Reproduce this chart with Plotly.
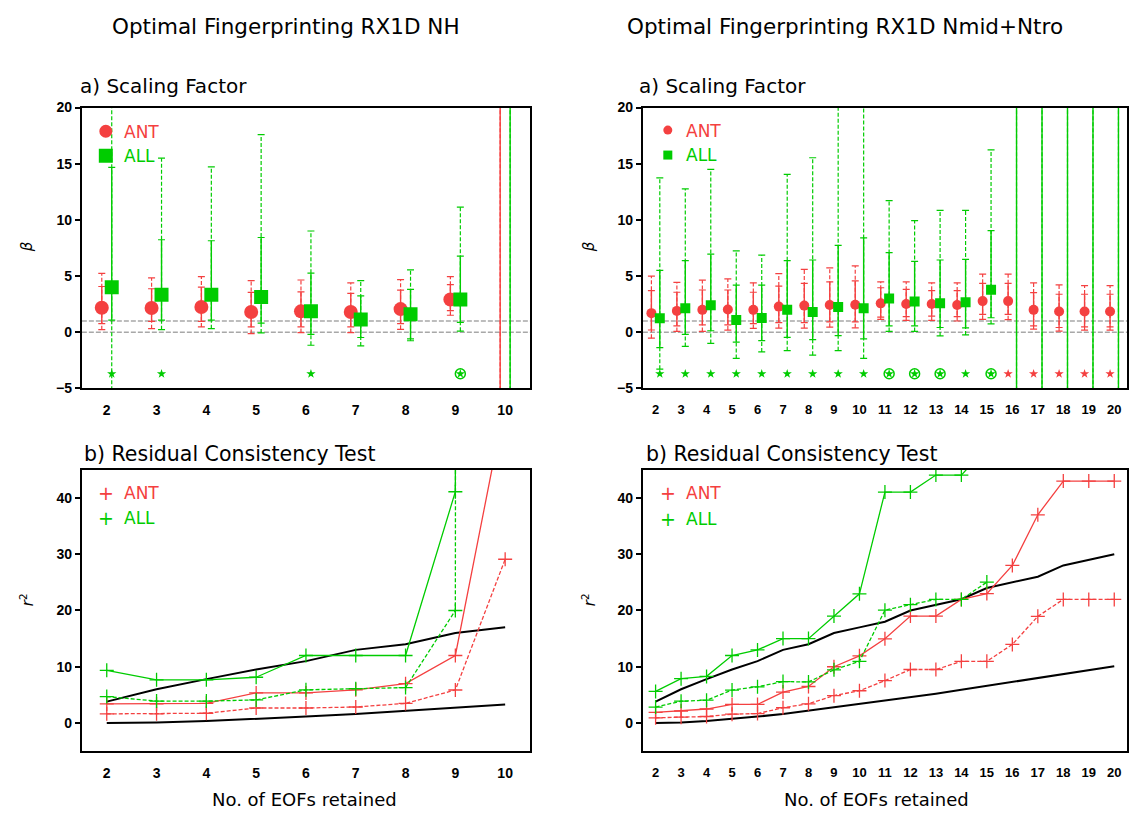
import plotly.graph_objects as go

W, H = 1129, 818
RED = '#f44040'
GREEN = '#00cc00'
GREY = '#a8a8a8'

# ---------------- DATA: NH (EOFs 2..10) ----------------
nh_n = [2, 3, 4, 5, 6, 7, 8, 9, 10]
BIG = 1000.0  # unbounded interval

nh_ant_beta   = [2.18, 2.15, 2.24, 1.80, 1.86, 1.80, 2.06, 2.91, None]
nh_ant_in_lo  = [0.76, 0.96, 0.96, 0.47, 0.47, 0.47, 0.76, 1.92, -BIG]
nh_ant_in_hi  = [4.07, 3.87, 4.01, 3.55, 3.60, 3.46, 3.75, 4.24, BIG]
nh_ant_out_lo = [0.23, 0.32, 0.47, -0.12, -0.03, -0.03, 0.26, 1.51, -BIG]
nh_ant_out_hi = [5.23, 4.83, 4.94, 4.59, 4.65, 4.39, 4.68, 4.94, BIG]

nh_all_beta   = [4.01, 3.34, 3.34, 3.14, 1.86, 1.13, 1.60, 2.91, None]
nh_all_in_lo  = [1.08, 1.08, 1.08, 0.81, -0.20, -0.47, -0.60, 0.87, -BIG]
nh_all_in_hi  = [14.68, 8.23, 8.14, 8.43, 5.26, 3.23, 3.81, 6.77, BIG]
nh_all_out_lo = [-BIG, 0.23, 0.32, -0.06, -1.16, -1.22, -0.76, 0.09, -BIG]
nh_all_out_hi = [BIG, 15.49, 14.71, 17.59, 9.01, 4.59, 5.55, 11.13, BIG]

# significance markers: '*' star, 'o' circled star, '' none
nh_sig_all = ['*', '*', '', '', '*', '', '', 'o', '']
nh_sig_ant = ['', '', '', '', '', '', '', '', '']

nh_ant_r2      = [3.4, 3.4, 3.5, 5.35, 5.35, 5.9, 7.0, 12.0, 57.0]
nh_ant_r2_dash = [1.63, 1.63, 1.74, 2.67, 2.67, 2.85, 3.49, 5.87, 29.1]
nh_all_r2      = [9.36, 7.67, 7.67, 8.14, 12.0, 12.0, 12.0, 41.1, BIG * 10]
nh_all_r2_dash = [4.7, 3.9, 3.9, 4.1, 5.9, 6.1, 6.3, 20.0, BIG * 10]
nh_chi_hi = [3.8, 6.0, 7.8, 9.5, 11.0, 13.0, 14.0, 16.0, 17.0]
nh_chi_lo = [0.0, 0.1, 0.35, 0.7, 1.15, 1.6, 2.2, 2.7, 3.3]

# ---------------- DATA: Nmid+Ntro (EOFs 2..20) ----------------
nm_n = list(range(2, 21))
nm_ant_beta   = [1.70, 1.90, 1.99, 2.02, 1.99, 2.28, 2.37, 2.42, 2.45, 2.57,
                 2.51, 2.51, 2.42, 2.77, 2.77, 1.99, 1.84, 1.84, 1.84]
nm_ant_in_lo  = [0.20, 0.57, 0.66, 0.66, 0.77, 0.86, 0.86, 0.92, 0.92, 1.35,
                 1.38, 1.44, 1.38, 1.58, 1.58, 0.57, 0.42, 0.48, 0.48]
nm_ant_in_hi  = [3.70, 3.56, 3.76, 3.76, 3.56, 4.11, 4.34, 4.48, 4.57, 3.96,
                 3.82, 3.70, 3.70, 4.34, 4.34, 3.53, 3.38, 3.38, 3.38]
nm_ant_out_lo = [-0.53, 0.07, 0.07, 0.19, 0.34, 0.37, 0.37, 0.45, 0.39, 1.15,
                 1.06, 1.06, 1.00, 1.15, 1.12, 0.28, 0.10, 0.19, 0.19]
nm_ant_out_hi = [5.00, 4.43, 4.63, 4.74, 4.40, 5.21, 5.59, 5.73, 5.90, 4.48,
                 4.48, 4.40, 4.40, 5.18, 5.18, 4.40, 4.22, 4.14, 4.14]

nm_all_beta   = [1.24, 2.13, 2.40, 1.09, 1.26, 1.99, 1.79, 2.25, 2.13, 3.00,
                 2.74, 2.57, 2.66, 3.79, None, None, None, None, None]
nm_all_in_lo  = [-1.37, -0.20, 0.13, -0.88, -0.74, -0.45, -0.65, -0.30, -0.59, 0.57,
                 0.57, 0.42, 0.39, 1.29, -BIG, -BIG, -BIG, -BIG, -BIG]
nm_all_in_hi  = [5.50, 6.37, 6.95, 4.19, 4.19, 6.37, 6.43, 7.73, 8.40, 7.09,
                 6.31, 6.43, 6.49, 9.04, BIG, BIG, BIG, BIG, BIG]
nm_all_out_lo = [-3.29, -1.26, -1.00, -2.33, -1.75, -1.64, -2.04, -1.64, -2.33, 0.07,
                 0.07, -0.33, -0.24, 0.74, -BIG, -BIG, -BIG, -BIG, -BIG]
nm_all_out_hi = [13.74, 12.75, 14.49, 7.24, 6.86, 14.05, 15.53, BIG, BIG, 11.71,
                 9.94, 10.84, 10.84, 16.23, BIG, BIG, BIG, BIG, BIG]

nm_sig_all = ['*', '*', '*', '*', '*', '*', '*', '*', '*', 'o',
              'o', 'o', '*', 'o', '', '', '', '', '']
nm_sig_ant = ['', '', '', '', '', '', '', '', '', '',
              '', '', '', '', '*', '*', '*', '*', '*']

nm_ant_r2      = [1.91, 2.14, 2.49, 3.3, 3.3, 5.5, 6.49, 10.0, 11.94, 14.96,
                  19.0, 19.0, 21.97, 23.0, 28.0, 37.0, 43.0, 43.0, 43.0]
nm_ant_r2_dash = [0.93, 1.04, 1.16, 1.57, 1.68, 2.72, 3.42, 4.87, 5.74, 7.54,
                  9.51, 9.51, 10.96, 10.96, 13.97, 18.96, 21.97, 21.97, 21.97]
nm_all_r2      = [5.62, 7.88, 8.29, 12.0, 12.99, 15.0, 15.0, 19.0, 22.96, 41.04,
                  41.04, 44.06, 44.06, 49.0]
nm_all_r2_dash = [2.84, 3.88, 4.06, 5.86, 6.43, 7.36, 7.30, 9.45, 10.96, 20.06,
                  21.04, 21.97, 21.97, 25.04]
nm_chi_hi = [3.8, 6.0, 7.8, 9.5, 11.0, 13.0, 14.0, 16.0, 17.0, 18.0,
             20.0, 21.0, 22.0, 24.0, 25.0, 26.0, 28.0, 29.0, 30.0]
nm_chi_lo = [0.0, 0.1, 0.35, 0.7, 1.15, 1.6, 2.2, 2.7, 3.3, 3.9,
             4.6, 5.2, 5.9, 6.6, 7.3, 8.0, 8.7, 9.4, 10.1]

beta_ticks = [-5, 0, 5, 10, 15, 20]
r2_ticks = [0, 10, 20, 30, 40]

# ---------------- helpers ----------------
DASH = '4px,2px'
traces = []


def whisk(xs, lo, hi, color, dash, width, ax):
    X, Y = [], []
    for x, l, h in zip(xs, lo, hi):
        if l is None or h is None:
            continue
        X += [x, x, None]
        Y += [l, h, None]
    traces.append(go.Scatter(
        x=X, y=Y, mode='lines+markers', xaxis='x' + ax, yaxis='y' + ax,
        line=dict(color=color, width=width, dash=dash),
        marker=dict(symbol='line-ew', size=5, color=color, line=dict(color=color, width=1.2)),
        showlegend=False, hoverinfo='skip'))


def points(xs, ys, color, symbol, size, ax):
    traces.append(go.Scatter(
        x=xs, y=ys, mode='markers', xaxis='x' + ax, yaxis='y' + ax,
        marker=dict(symbol=symbol, size=size, color=color, line=dict(width=0)),
        showlegend=False, hoverinfo='skip'))


def sig(xs, flags, color, ssize, csize, ax, ylev=-3.7):
    sx = [x for x, f in zip(xs, flags) if f]
    cx = [x for x, f in zip(xs, flags) if f == 'o']
    if sx:
        points(sx, [ylev] * len(sx), color, 'star', ssize, ax)
    if cx:
        traces.append(go.Scatter(
            x=cx, y=[ylev] * len(cx), mode='markers', xaxis='x' + ax, yaxis='y' + ax,
            marker=dict(symbol='circle-open', size=csize, color=color, line=dict(color=color, width=1.5)),
            showlegend=False, hoverinfo='skip'))


def rline(xs, ys, color, dash, ax, width=1.3, markers=True):
    traces.append(go.Scatter(
        x=xs[:len(ys)], y=ys, mode='lines+markers' if markers else 'lines',
        xaxis='x' + ax, yaxis='y' + ax,
        line=dict(color=color, width=width, dash=dash),
        marker=dict(symbol='cross-thin', size=10, color=color, line=dict(color=color, width=1.3)),
        showlegend=False, hoverinfo='skip'))


# ---------------- panel a) NH ----------------
off1 = 0.1
xa = [n - off1 for n in nh_n]
xb = [n + off1 for n in nh_n]
whisk(xa, nh_ant_out_lo, nh_ant_out_hi, RED, DASH, 1.2, '')
whisk(xa, nh_ant_in_lo, nh_ant_in_hi, RED, 'solid', 1.4, '')
whisk(xb, nh_all_out_lo, nh_all_out_hi, GREEN, DASH, 1.2, '')
whisk(xb, nh_all_in_lo, nh_all_in_hi, GREEN, 'solid', 1.4, '')
points(xa, nh_ant_beta, RED, 'circle', 14, '')
points(xb, nh_all_beta, GREEN, 'square', 14, '')
sig(xb, nh_sig_all, GREEN, 7, 10, '')
sig(xa, nh_sig_ant, RED, 7, 10, '')

# ---------------- panel a) Nmid+Ntro ----------------
off2 = 0.165
xa2 = [n - off2 for n in nm_n]
xb2 = [n + off2 for n in nm_n]
whisk(xa2, nm_ant_out_lo, nm_ant_out_hi, RED, DASH, 1.2, '2')
whisk(xa2, nm_ant_in_lo, nm_ant_in_hi, RED, 'solid', 1.4, '2')
whisk(xb2, nm_all_out_lo, nm_all_out_hi, GREEN, DASH, 1.2, '2')
whisk(xb2, nm_all_in_lo, nm_all_in_hi, GREEN, 'solid', 1.4, '2')
points(xa2, nm_ant_beta, RED, 'circle', 10, '2')
points(xb2, nm_all_beta, GREEN, 'square', 10, '2')
sig(xb2, nm_sig_all, GREEN, 7, 10, '2')
sig(xa2, nm_sig_ant, RED, 7, 10, '2')

# ---------------- panel b) NH ----------------
rline(nh_n, nh_chi_hi, 'black', 'solid', '3', width=2, markers=False)
rline(nh_n, nh_chi_lo, 'black', 'solid', '3', width=2, markers=False)
rline(nh_n, nh_ant_r2_dash, RED, DASH, '3')
rline(nh_n, nh_ant_r2, RED, 'solid', '3')
rline(nh_n, nh_all_r2_dash, GREEN, DASH, '3')
rline(nh_n, nh_all_r2, GREEN, 'solid', '3')

# ---------------- panel b) Nmid+Ntro ----------------
rline(nm_n, nm_chi_hi, 'black', 'solid', '4', width=2, markers=False)
rline(nm_n, nm_chi_lo, 'black', 'solid', '4', width=2, markers=False)
rline(nm_n, nm_ant_r2_dash, RED, DASH, '4')
rline(nm_n, nm_ant_r2, RED, 'solid', '4')
rline(nm_n, nm_all_r2_dash, GREEN, DASH, '4')
rline(nm_n, nm_all_r2, GREEN, 'solid', '4')

fig = go.Figure(traces)

# ---------------- layout ----------------
TICKFONT = dict(family='Liberation Sans', size=14, color='black', weight='bold')


def xax(dom, rng, vals, anchor, size=14):
    return dict(domain=[dom[0] / W, dom[1] / W], range=rng, anchor=anchor,
                tickmode='array', tickvals=vals, ticktext=[str(v) for v in vals],
                ticks='', showgrid=False, zeroline=False, showline=True, mirror=True,
                linecolor='black', linewidth=2,
                tickfont=dict(TICKFONT, size=size), ticklabelstandoff=8)


def yax(dom, rng, vals, anchor):
    return dict(domain=[1 - dom[1] / H, 1 - dom[0] / H], range=rng, anchor=anchor,
                tickmode='array', tickvals=vals, ticks='outside', ticklen=5, tickwidth=1.5,
                tickcolor='black', showgrid=False, zeroline=False, showline=True, mirror=True,
                linecolor='black', linewidth=2, tickfont=TICKFONT)


LX = (82, 531)
RX = (644, 1129)
TY = (101.5, 388)
BY = (471, 758)

fig.update_layout(
    width=W, height=H, margin=dict(l=0, r=0, t=0, b=0),
    paper_bgcolor='white', plot_bgcolor='white', showlegend=False,
    xaxis=xax(LX, [1.5, 10.5], nh_n, 'y'),
    yaxis=yax(TY, [-5, 20], beta_ticks, 'x'),
    xaxis2=xax(RX, [1.5, 20.5], nm_n, 'y2', size=13),
    yaxis2=yax(TY, [-5, 20], beta_ticks, 'x2'),
    xaxis3=xax(LX, [1.5, 10.5], nh_n, 'y3'),
    yaxis3=yax(BY, [-5, 45], r2_ticks, 'x3'),
    xaxis4=xax(RX, [1.5, 20.5], nm_n, 'y4', size=13),
    yaxis4=yax(BY, [-5, 45], r2_ticks, 'x4'),
)

shapes = []
for ax in ['', '2']:
    for lvl in [0, 1]:
        shapes.append(dict(type='line', xref='x' + ax + ' domain', yref='y' + ax,
                           x0=0, x1=1, y0=lvl, y1=lvl, layer='below',
                           line=dict(color=GREY, width=1.3, dash='5px,2px')))


def mshape(kind, px, py, r, color):
    shapes.append(dict(type=kind, xref='paper', yref='paper', xsizemode='pixel', ysizemode='pixel',
                       xanchor=px / W, yanchor=1 - py / H, x0=-r, x1=r, y0=-r, y1=r,
                       fillcolor=color, line=dict(width=0)))


mshape('circle', 106, 125.7, 6.5, RED)
mshape('rect', 106, 150.7, 7, GREEN)
mshape('circle', 669, 124.5, 4.5, RED)
mshape('rect', 669, 150, 4.5, GREEN)
fig.update_layout(shapes=shapes)

ann = []
TF = 'DejaVu Sans'


def text(s, px, py, size, color='black', xanchor='center', angle=0):
    ann.append(dict(text=s, x=px / W, y=1 - py / H, xref='paper', yref='paper', showarrow=False,
                    xanchor=xanchor, yanchor='middle', textangle=angle,
                    font=dict(family=TF, size=size, color=color)))


text('Optimal Fingerprinting RX1D NH', 287, 19, 21.5)
text('Optimal Fingerprinting RX1D Nmid+Ntro', 847, 19, 21.5)
text('a) Scaling Factor', 78, 80, 20, xanchor='left')
text('a) Scaling Factor', 638, 80, 20, xanchor='left')
text('b) Residual Consistency Test', 82, 455, 20.5, xanchor='left')
text('b) Residual Consistency Test', 645, 455, 20.5, xanchor='left')
text('No. of EOFs retained', 305, 807, 18)
text('No. of EOFs retained', 878, 807, 18)
text('<i>β</i>', 27, 243, 15, angle=-90)
text('<i>β</i>', 590, 243, 15, angle=-90)
text('<i>r</i><sup>2</sup>', 27, 603, 15, angle=-90)
text('<i>r</i><sup>2</sup>', 590, 603, 15, angle=-90)
# legends
text('ANT', 122, 126, 17, RED, 'left')
text('ALL', 122, 151, 17, GREEN, 'left')
text('ANT', 685, 125, 17, RED, 'left')
text('ALL', 685, 150, 17, GREEN, 'left')
text('+', 106, 495, 19, RED)
text('+', 106, 520, 19, GREEN)
text('ANT', 122, 495, 17, RED, 'left')
text('ALL', 122, 520, 17, GREEN, 'left')
text('+', 669, 495, 19, RED)
text('+', 669, 521, 19, GREEN)
text('ANT', 685, 495, 17, RED, 'left')
text('ALL', 685, 521, 17, GREEN, 'left')
fig.update_layout(annotations=ann)

fig.write_html('out.html')
